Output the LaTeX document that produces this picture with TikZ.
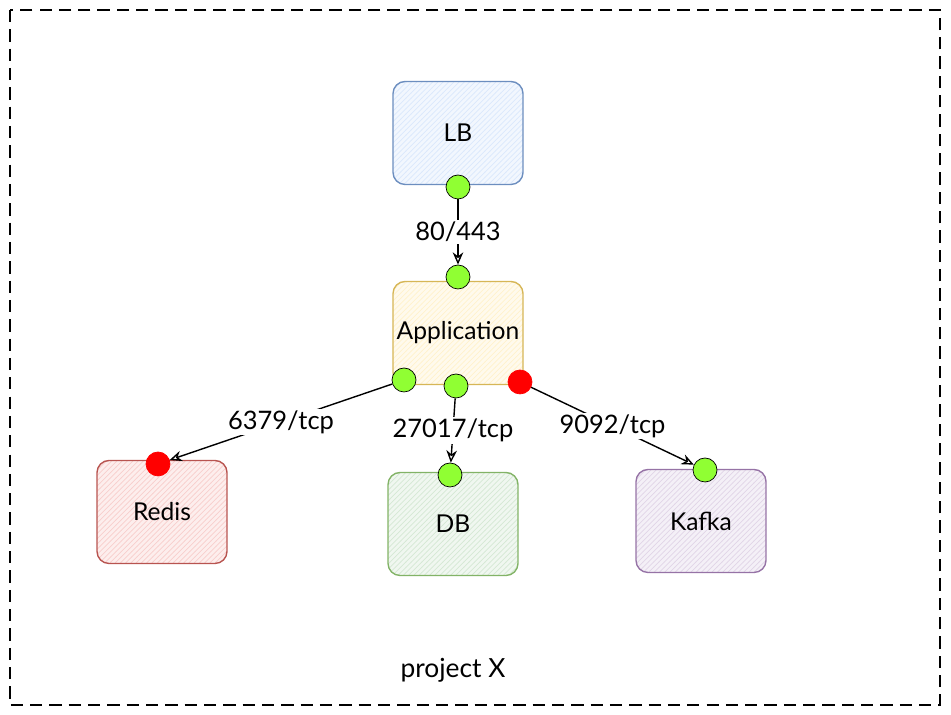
\documentclass[tikz,border=0pt]{standalone}
\usepackage{fontspec}
\setmainfont{Lato}
\usetikzlibrary{arrows.meta,patterns}

\definecolor{lbfill}{HTML}{DAE8FC}  \definecolor{lbline}{HTML}{6C8EBF}
\definecolor{appfill}{HTML}{FFF2CC} \definecolor{appline}{HTML}{D6B656}
\definecolor{rdfill}{HTML}{F8CECC}  \definecolor{rdline}{HTML}{B85450}
\definecolor{dbfill}{HTML}{D5E8D4}  \definecolor{dbline}{HTML}{82B366}
\definecolor{kffill}{HTML}{E1D5E7}  \definecolor{kfline}{HTML}{9673A6}
\definecolor{portok}{HTML}{90FF33}
\definecolor{portko}{HTML}{FF0000}

\tikzset{
  svcbox/.style n args={2}{draw=#2, thick, rounded corners=0.24cm,
    minimum width=2.6cm, minimum height=2.06cm, inner xsep=1pt,
    preaction={fill=#1!35!white}, pattern=north east lines, pattern color=#1,
    font=\fontsize{14pt}{16pt}\selectfont},
  portok/.style={circle, draw=black, fill=portok, inner sep=0pt, minimum size=0.48cm},
  portko/.style={circle, draw=portko, fill=portko, inner sep=0pt, minimum size=0.48cm},
  link/.style={thick, -{Stealth[open,length=7pt,width=6pt]}},
  portlbl/.style={fill=white, inner sep=1pt, font=\fontsize{14.5pt}{16pt}\selectfont}
}

\begin{document}
\begin{tikzpicture}[x=0.02cm, y=-0.02cm]
\useasboundingbox (0,0) rectangle (951,715);
%\draw [lightgray, step=50] (0,0) grid (951,715);

\draw [line width=0.8pt, dash pattern=on 7pt off 4pt] (10,10) rectangle (940,705); % projeto
\node [font=\fontsize{15pt}{17pt}\selectfont] (proj) at (453,670) {project X};

\node [svcbox={lbfill}{lbline}]   (lb)    at (458,133) {LB};
\node [svcbox={appfill}{appline}] (app)   at (458,333) {Application};
\node [svcbox={rdfill}{rdline}]   (redis) at (162,512) {Redis};
\node [svcbox={dbfill}{dbline}]   (db)    at (453,524) {DB};
\node [svcbox={kffill}{kfline}]   (kafka) at (701,521) {Kafka};

% portas
\node [portok] (lbout)    at (458,187) {};
\node [portok] (appin)    at (458,277) {};
\node [portok] (appred)   at (404,380) {};
\node [portok] (appdb)    at (456,386) {};
\node [portko] (appkf)    at (520,382) {};
\node [portko] (redisin)  at (158,464) {};
\node [portok] (dbin)     at (450,475) {};
\node [portok] (kafkain)  at (705,470) {};

\draw [link] (lbout) -- node [portlbl] {80/443} (appin);
\draw [link] (appred) -- node [portlbl] {6379/tcp} (redisin);
\draw [link] (appdb) -- node [portlbl] {27017/tcp} (dbin);
\draw [link] (appkf) -- node [portlbl] {9092/tcp} (kafkain);

\end{tikzpicture}
\end{document}
